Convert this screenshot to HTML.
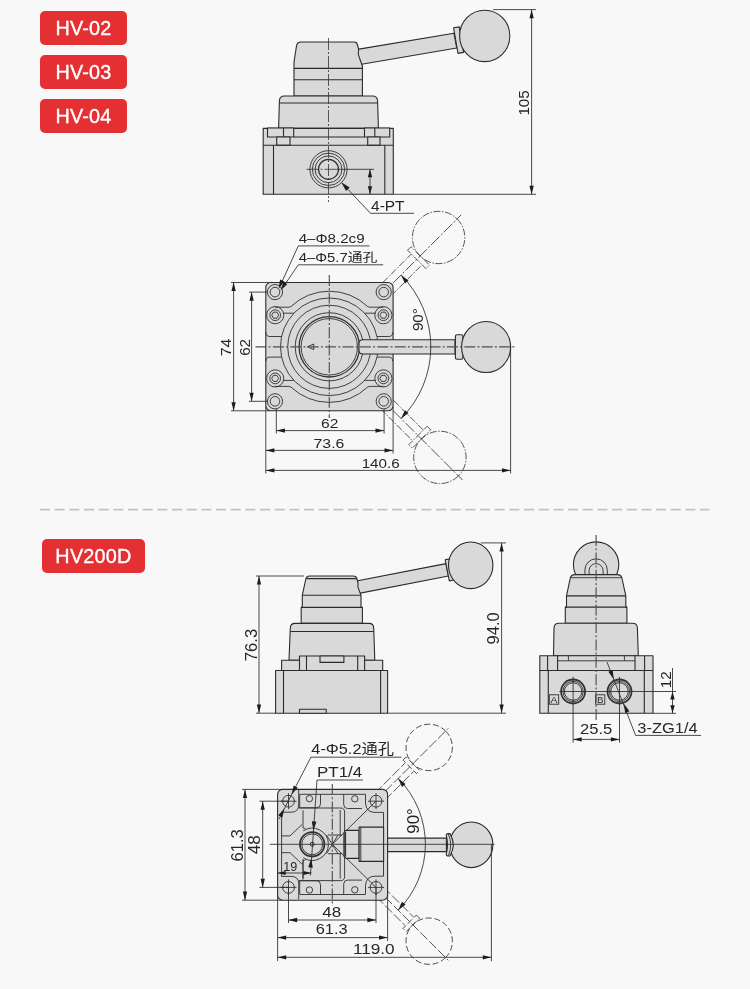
<!DOCTYPE html>
<html lang="zh"><head><meta charset="utf-8"><title>HV-02 / HV-03 / HV-04 / HV200D</title>
<style>
html,body{margin:0;padding:0;background:#f8f8f8;}
body{width:750px;height:989px;position:relative;overflow:hidden;font-family:"Liberation Sans","Noto Sans CJK SC",sans-serif;}
svg{position:absolute;left:0;top:0;display:block;filter:grayscale(1)}
.tag{position:absolute;left:40px;width:87px;height:34px;border-radius:5px;background:#e43033;color:#fff;font-size:19.8px;line-height:34px;text-align:center;-webkit-text-stroke:.35px #fff;letter-spacing:.25px;will-change:transform;font-family:"Liberation Sans","Noto Sans CJK SC",sans-serif;}
.o{fill:#d9d9d8;stroke:#2b2b2b;stroke-width:1.1;stroke-linejoin:round}
.n{fill:none;stroke:#2e2e2e;stroke-width:.9}
.n2{fill:none;stroke:#333;stroke-width:1.3}
.n3{fill:none;stroke:#333;stroke-width:1.8}
.t{fill:none;stroke:#2b2b2b;stroke-width:.85}
.c{fill:none;stroke:#505050;stroke-width:1.15;stroke-dasharray:11 2.2 2 2.2}
.g{fill:none;stroke:#3a3a3a;stroke-width:.8;stroke-dasharray:7 1.5 1.5 1.5}
.c2{fill:none;stroke:#333;stroke-width:.8;stroke-dasharray:12 2 2 2}
.g2{fill:none;stroke:#3a3a3a;stroke-width:.8;stroke-dasharray:10 2.5}
.g3{fill:none;stroke:#3a3a3a;stroke-width:.85;stroke-dasharray:6 2.7}
.a{fill:#1d1d1d;stroke:none}
text{fill:#262626;font-family:"Liberation Sans","Noto Sans CJK SC",sans-serif}
.sep{stroke:#c2c2c2;stroke-width:1.8;stroke-dasharray:10 4.67}
</style></head><body>
<svg width="750" height="989" viewBox="0 0 750 989">
<rect x="0" y="0" width="750" height="989" fill="#f8f8f8"/>
<line class="sep" x1="40" y1="509.7" x2="709.5" y2="509.7"/>
<g id="v1">
<path class="o" d="M350 50.6 L454 33.3 L456.7 48 L350 66.2 Z"/>
<path class="o" d="M453.6 27.8 L459.2 26.9 L463.6 52.4 L458 53.4 Z"/>
<ellipse class="o" cx="484.7" cy="35.9" rx="25.1" ry="25.7"/>
<path class="o" d="M294 96 L294 62 L296.5 46 Q297 42 301 42 L354 42 Q357 42 357.5 45 L358.6 49 Q357.5 54 359.5 58 L362.4 66 L362.4 96 Z"/>
<line class="o" x1="294" y1="68.4" x2="362.4" y2="68.4"/>
<line class="o" x1="294" y1="79.7" x2="362.4" y2="79.7"/>
<path class="o" d="M278.6 128.4 L279.4 101 Q279.6 96 284.4 96 L372.6 96 Q377.4 96 377.6 101 L378.4 128.4 Z"/>
<line class="o" x1="279.4" y1="103" x2="377.6" y2="103"/>
<rect class="o" x="263.2" y="128.4" width="130.1" height="65.9"/>
<rect class="o" x="267.5" y="128" width="26.2" height="9"/>
<line class="o" x1="283.5" y1="128" x2="283.5" y2="137"/>
<rect class="o" x="276.7" y="137" width="13.3" height="8.2"/>
<rect class="o" x="364.5" y="128" width="25.2" height="9"/>
<line class="o" x1="374.8" y1="128" x2="374.8" y2="137"/>
<rect class="o" x="367.7" y="137" width="12.3" height="8.2"/>
<line class="o" x1="293.7" y1="137" x2="364.5" y2="137"/>
<line class="o" x1="263.2" y1="145.2" x2="393.3" y2="145.2"/>
<line class="o" x1="273.5" y1="145.2" x2="273.5" y2="194.3"/>
<line class="o" x1="384.8" y1="145.2" x2="384.8" y2="194.3"/>
<circle class="n" cx="328.5" cy="169.3" r="18.6"/>
<circle class="n" cx="328.5" cy="169.3" r="16.2"/>
<circle class="n" cx="328.5" cy="169.3" r="13.4"/>
<circle class="n2" cx="328.5" cy="169.3" r="10"/>
<line class="c2" x1="328.5" y1="38" x2="328.5" y2="202"/>
<line class="c2" x1="306.5" y1="169.3" x2="336.5" y2="169.3"/>
<line class="t" x1="336.5" y1="169.3" x2="374" y2="169.3"/>
<line class="t" x1="370" y1="169.3" x2="370" y2="194.3"/>
<polygon class="a" points="370,169.3 372.2,177.3 367.8,177.3"/>
<polygon class="a" points="370,194.3 367.8,186.3 372.2,186.3"/>
<line class="t" x1="342" y1="183" x2="370.5" y2="213.3"/>
<line class="t" x1="370.5" y1="213.3" x2="414" y2="213.3"/>
<polygon class="a" points="341.3,182.3 349.65,187.47 346.03,190.91"/>
<text class="s" x="387.8" y="210.7" text-anchor="middle" font-size="14" textLength="33.5" lengthAdjust="spacingAndGlyphs">4-PT</text>
<line class="t" x1="493" y1="9.6" x2="536" y2="9.6"/>
<line class="t" x1="393.3" y1="194.3" x2="536" y2="194.3"/>
<line class="t" x1="531.6" y1="9.6" x2="531.6" y2="194.3"/>
<polygon class="a" points="531.6,9.6 533.75,18.2 529.45,18.2"/>
<polygon class="a" points="531.6,194.3 529.45,185.7 533.75,185.7"/>
<text class="s" x="529.3" y="102.9" text-anchor="middle" font-size="14" textLength="25.3" lengthAdjust="spacingAndGlyphs" transform="rotate(-90 529.3 102.9)">105</text>
</g>
<g id="v2">
<g transform="rotate(-45 329.3 346.8)">
<line class="g" x1="401.3" y1="339.2" x2="452.9" y2="339.2"/>
<line class="g" x1="409.3" y1="354.4" x2="452.9" y2="354.4"/>
<rect class="g" x="452.9" y="333.8" width="5" height="26"/>
<circle class="g" cx="483.9" cy="346.8" r="26.2"/>
<line class="c2" x1="419.3" y1="346.8" x2="515.9" y2="346.8"/>
</g>
<g transform="rotate(45 329.3 346.8)">
<line class="g" x1="401.3" y1="339.2" x2="454.7" y2="339.2"/>
<line class="g" x1="409.3" y1="354.4" x2="454.7" y2="354.4"/>
<rect class="g" x="454.7" y="333.8" width="5" height="26"/>
<circle class="g" cx="485.7" cy="346.8" r="26.2"/>
<line class="c2" x1="419.3" y1="346.8" x2="517.7" y2="346.8"/>
</g>
<rect class="o" x="265.8" y="282.5" width="127.3" height="128.3" rx="5"/>
<path class="n" d="M290.89 306.6 A55.6 55.6 0 0 1 367.71 306.6 M290.89 387 A55.6 55.6 0 0 0 367.71 387 M290.89 306.6 L288.89 307.2 L275.1 307.2 M293.91 313.2 L283.1 313.2 M281.6 336.5 L269.9 336.5 Q265.9 336.5 265.9 332.4 M290.89 387 L288.89 386.4 L275.1 386.4 M293.91 380.4 L283.1 380.4 M281.6 357.1 L269.9 357.1 Q265.9 357.1 265.9 361.2 M367.71 306.6 L369.71 307.2 L383.5 307.2 M364.69 313.2 L375.5 313.2 M377 336.5 L388.7 336.5 Q392.7 336.5 392.7 332.4 M367.71 387 L369.71 386.4 L383.5 386.4 M364.69 380.4 L375.5 380.4 M377 357.1 L388.7 357.1 Q392.7 357.1 392.7 361.2 "/>
<circle class="n" cx="329.3" cy="346.8" r="48.8"/>
<circle class="n" cx="275" cy="292.1" r="7.6"/>
<circle class="n" cx="275" cy="292.1" r="4.8"/>
<circle class="n" cx="275" cy="401.3" r="7.6"/>
<circle class="n" cx="275" cy="401.3" r="4.8"/>
<circle class="n" cx="383.7" cy="292.1" r="7.6"/>
<circle class="n" cx="383.7" cy="292.1" r="4.8"/>
<circle class="n" cx="383.7" cy="401.3" r="7.6"/>
<circle class="n" cx="383.7" cy="401.3" r="4.8"/>
<circle class="n" cx="275.2" cy="315.2" r="8.6"/>
<circle class="n" cx="275.2" cy="315.2" r="5.4"/>
<polygon class="n" points="278.7,315.2 276.95,318.23 273.45,318.23 271.7,315.2 273.45,312.17 276.95,312.17"/>
<circle class="n" cx="275.2" cy="378.4" r="8.6"/>
<circle class="n" cx="275.2" cy="378.4" r="5.4"/>
<polygon class="n" points="278.7,378.4 276.95,381.43 273.45,381.43 271.7,378.4 273.45,375.37 276.95,375.37"/>
<circle class="n" cx="383.4" cy="315.2" r="8.6"/>
<circle class="n" cx="383.4" cy="315.2" r="5.4"/>
<polygon class="n" points="386.9,315.2 385.15,318.23 381.65,318.23 379.9,315.2 381.65,312.17 385.15,312.17"/>
<circle class="n" cx="383.4" cy="378.4" r="8.6"/>
<circle class="n" cx="383.4" cy="378.4" r="5.4"/>
<polygon class="n" points="386.9,378.4 385.15,381.43 381.65,381.43 379.9,378.4 381.65,375.37 385.15,375.37"/>
<circle class="n" cx="329.3" cy="346.8" r="41.6"/>
<circle class="n" cx="329.3" cy="346.8" r="34.1"/>
<circle class="n2" cx="329.3" cy="346.8" r="30.2"/>
<circle class="n" cx="329.3" cy="346.8" r="28.2"/>
<path class="n" d="M307.3 346.8 L313.7 344 L313.7 349.6 Z"/>
<path class="o" d="M455 339.7 L363 339.7 Q359 339.7 359 343.5 L359 350.2 Q359 354 363 354 L455 354 Z"/>
<rect class="o" x="455.4" y="334.8" width="7.5" height="24.4" rx="1.5"/>
<ellipse class="o" cx="486.1" cy="347" rx="24.5" ry="25.5"/>
<line class="c" x1="255.5" y1="346.8" x2="515" y2="346.8"/>
<line class="c" x1="329.3" y1="275" x2="329.3" y2="418"/>
<path class="t" d="M401.07 275.03 A101.5 101.5 0 0 1 401.07 418.57"/>
<polygon class="a" points="401.07,275.03 408.52,280.58 404.95,283.47"/>
<polygon class="a" points="401.07,418.57 404.95,410.13 408.52,413.02"/>
<text class="d" x="423.5" y="319.6" text-anchor="middle" font-size="14.5" textLength="23" lengthAdjust="spacingAndGlyphs" transform="rotate(-90 423.5 319.6)">90°</text>
<line class="t" x1="231" y1="282.5" x2="269.8" y2="282.5"/>
<line class="t" x1="231" y1="410.8" x2="269.8" y2="410.8"/>
<line class="t" x1="233.6" y1="282.5" x2="233.6" y2="410.8"/>
<polygon class="a" points="233.6,282.5 235.75,291.1 231.45,291.1"/>
<polygon class="a" points="233.6,410.8 231.45,402.2 235.75,402.2"/>
<text class="d" x="231.4" y="347.4" text-anchor="middle" font-size="14.2" textLength="17.7" lengthAdjust="spacingAndGlyphs" transform="rotate(-90 231.4 347.4)">74</text>
<line class="t" x1="249" y1="292.1" x2="267.5" y2="292.1"/>
<line class="t" x1="249" y1="401.3" x2="267.5" y2="401.3"/>
<line class="t" x1="251.6" y1="292.1" x2="251.6" y2="401.3"/>
<polygon class="a" points="251.6,292.1 253.75,300.7 249.45,300.7"/>
<polygon class="a" points="251.6,401.3 249.45,392.7 253.75,392.7"/>
<text class="d" x="249.8" y="347.4" text-anchor="middle" font-size="14.2" textLength="16.9" lengthAdjust="spacingAndGlyphs" transform="rotate(-90 249.8 347.4)">62</text>
<line class="t" x1="276.3" y1="409" x2="276.3" y2="433.5"/>
<line class="t" x1="384.1" y1="409" x2="384.1" y2="433.5"/>
<line class="t" x1="276.3" y1="430.6" x2="384.1" y2="430.6"/>
<polygon class="a" points="276.3,430.6 284.9,428.45 284.9,432.75"/>
<polygon class="a" points="384.1,430.6 375.5,432.75 375.5,428.45"/>
<text class="d" x="329.75" y="428.4" text-anchor="middle" font-size="13" textLength="17.4" lengthAdjust="spacingAndGlyphs">62</text>
<line class="t" x1="265.8" y1="406.8" x2="265.8" y2="473.5"/>
<line class="t" x1="393.1" y1="406.8" x2="393.1" y2="453.5"/>
<line class="t" x1="265.8" y1="450.4" x2="393.1" y2="450.4"/>
<polygon class="a" points="265.8,450.4 274.4,448.25 274.4,452.55"/>
<polygon class="a" points="393.1,450.4 384.5,452.55 384.5,448.25"/>
<text class="d" x="328.95" y="447.6" text-anchor="middle" font-size="13" textLength="30.8" lengthAdjust="spacingAndGlyphs">73.6</text>
<line class="t" x1="510.6" y1="346.9" x2="510.6" y2="473.5"/>
<line class="t" x1="265.8" y1="470.4" x2="510.6" y2="470.4"/>
<polygon class="a" points="265.8,470.4 274.4,468.25 274.4,472.55"/>
<polygon class="a" points="510.6,470.4 502,472.55 502,468.25"/>
<text class="d" x="380.65" y="467.7" text-anchor="middle" font-size="13" textLength="38" lengthAdjust="spacingAndGlyphs">140.6</text>
<text class="d" x="331.65" y="243" text-anchor="middle" font-size="12.2" textLength="66" lengthAdjust="spacingAndGlyphs">4–Φ8.2c9</text>
<line class="t" x1="298.3" y1="245.9" x2="369.5" y2="245.9"/>
<line class="t" x1="298.3" y1="245.9" x2="280.5" y2="285"/>
<text class="d" x="338" y="262" text-anchor="middle" font-size="12.2" textLength="78.7" lengthAdjust="spacingAndGlyphs">4–Φ5.7通孔</text>
<line class="t" x1="298.3" y1="264.8" x2="383.2" y2="264.8"/>
<line class="t" x1="298.3" y1="264.8" x2="283.5" y2="286.5"/>
<polygon class="a" points="278.6,288.8 280.07,279.6 284.45,281.55"/>
<polygon class="a" points="280.4,290.4 283.61,281.71 287.26,284.17"/>
</g>
<g id="v3">
<path class="o" d="M350 582.3 L446 563.6 L448.4 576 L350 595.1 Z"/>
<path class="o" d="M445.2 559.8 L449.6 558.9 L453.7 580 L449.3 580.9 Z"/>
<ellipse class="o" cx="470.7" cy="565.3" rx="22.2" ry="23.3"/>
<path class="o" d="M301.2 623.4 L301.2 607.4 L302.3 607.4 L302.3 595.2 L305.6 580 Q306 576 310 576 L353 576 Q356.5 576 357 579 L358 583 Q357.4 587 359 590 L361 595.2 L361 607.4 L362.4 607.4 L362.4 623.4 Z"/>
<line class="o" x1="306.5" y1="578.6" x2="356.7" y2="578.6"/>
<line class="o" x1="302.3" y1="595.2" x2="361" y2="595.2"/>
<line class="o" x1="301.2" y1="607.4" x2="362.4" y2="607.4"/>
<path class="o" d="M289 660.3 L290.3 628 Q290.5 623.4 295 623.4 L369 623.4 Q373.5 623.4 373.7 628 L374.8 660.3 Z"/>
<line class="o" x1="290.3" y1="631.5" x2="373.7" y2="631.5"/>
<rect class="o" x="281.6" y="660.3" width="101.1" height="10.2"/>
<rect class="o" x="299.5" y="656" width="65.1" height="14.5"/>
<line class="o" x1="306.5" y1="656" x2="306.5" y2="670.5"/>
<line class="o" x1="357.7" y1="656" x2="357.7" y2="670.5"/>
<rect class="o" x="320" y="656" width="23.9" height="6.4"/>
<rect class="o" x="275.6" y="670.5" width="112" height="42.7"/>
<line class="o" x1="283.5" y1="670.5" x2="283.5" y2="713.2"/>
<line class="o" x1="380.6" y1="670.5" x2="380.6" y2="713.2"/>
<rect class="o" x="299.5" y="709.3" width="26.7" height="3.9"/>
<line class="t" x1="256" y1="576" x2="304" y2="576"/>
<line class="t" x1="256" y1="713.2" x2="275.6" y2="713.2"/>
<line class="t" x1="259" y1="576" x2="259" y2="713.2"/>
<polygon class="a" points="259,576 261.15,584.6 256.85,584.6"/>
<polygon class="a" points="259,713.2 256.85,704.6 261.15,704.6"/>
<text class="s" x="256.8" y="645" text-anchor="middle" font-size="16" textLength="32.3" lengthAdjust="spacingAndGlyphs" transform="rotate(-90 256.8 645)">76.3</text>
<line class="t" x1="480.8" y1="542.9" x2="506" y2="542.9"/>
<line class="t" x1="387.6" y1="713.2" x2="506" y2="713.2"/>
<line class="t" x1="501.6" y1="542.9" x2="501.6" y2="713.2"/>
<polygon class="a" points="501.6,542.9 503.75,551.5 499.45,551.5"/>
<polygon class="a" points="501.6,713.2 499.45,704.6 503.75,704.6"/>
<text class="s" x="499" y="628.3" text-anchor="middle" font-size="16" textLength="32.3" lengthAdjust="spacingAndGlyphs" transform="rotate(-90 499 628.3)">94.0</text>
</g>
<g id="v4">
<circle class="o" cx="596.1" cy="564.6" r="22.7"/>
<path class="n" d="M584.9 575 L584.9 570 A11.2 11.2 0 0 1 607.3 570 L607.3 575"/>
<path class="n" d="M589.1 575 L589.1 570.6 A7 7 0 0 1 603.1 570.6 L603.1 575"/>
<path class="o" d="M565.3 623.2 L565.3 607.1 L566.5 607.1 L566.5 595.9 L570.3 578 Q571 574.6 575 574.6 L617.2 574.6 Q621.2 574.6 621.9 578 L625.8 595.9 L625.8 607.1 L626.9 607.1 L626.9 623.2 Z"/>
<line class="n" x1="570.3" y1="577.7" x2="621.9" y2="577.7"/>
<line class="o" x1="566.5" y1="595.9" x2="625.8" y2="595.9"/>
<line class="o" x1="565.3" y1="607.1" x2="626.9" y2="607.1"/>
<path class="o" d="M553.5 655.8 L554 628 Q554.2 623.3 559 623.3 L632.5 623.3 Q637.2 623.3 637.4 628 L638.3 655.8 Z"/>
<rect class="o" x="539.8" y="655.8" width="113.2" height="57.5"/>
<line class="o" x1="539.8" y1="670.5" x2="653" y2="670.5"/>
<line class="o" x1="547.6" y1="655.8" x2="547.6" y2="670.5"/>
<line class="o" x1="557.6" y1="655.8" x2="557.6" y2="670.5"/>
<line class="o" x1="635" y1="655.8" x2="635" y2="670.5"/>
<line class="o" x1="644.6" y1="655.8" x2="644.6" y2="670.5"/>
<line class="o" x1="548.3" y1="670.5" x2="548.3" y2="713.3"/>
<line class="o" x1="644.3" y1="670.5" x2="644.3" y2="713.3"/>
<path class="n" d="M557.6 660.8 L635 660.8 M568.4 660.8 L568.4 655.8 M624.4 660.8 L624.4 655.8"/>
<circle class="n3" cx="573.1" cy="691.5" r="12"/>
<circle class="n" cx="573.1" cy="691.5" r="10.1"/>
<circle class="n" cx="573.1" cy="691.5" r="8.7"/>
<circle class="n3" cx="619.5" cy="691.5" r="12"/>
<circle class="n" cx="619.5" cy="691.5" r="10.1"/>
<circle class="n" cx="619.5" cy="691.5" r="8.7"/>
<rect class="n" x="549.3" y="694.8" width="9.4" height="9.4"/>
<text class="s" x="554" y="703.2" text-anchor="middle" font-size="9" textLength="6.9" lengthAdjust="spacingAndGlyphs">A</text>
<rect class="n" x="595.6" y="694.8" width="9.2" height="9.4"/>
<text class="s" x="600.2" y="703.2" text-anchor="middle" font-size="9" textLength="6.5" lengthAdjust="spacingAndGlyphs">B</text>
<line class="c" x1="596.1" y1="535" x2="596.1" y2="721"/>
<line class="t" x1="559.3" y1="691.5" x2="676" y2="691.5"/>
<line class="t" x1="653" y1="713.3" x2="676" y2="713.3"/>
<line class="t" x1="672.5" y1="668" x2="672.5" y2="713.3"/>
<polygon class="a" points="672.5,691.5 674.7,699.5 670.3,699.5"/>
<polygon class="a" points="672.5,713.3 670.3,705.3 674.7,705.3"/>
<text class="s" x="670.6" y="679.8" text-anchor="middle" font-size="15.5" textLength="16.9" lengthAdjust="spacingAndGlyphs" transform="rotate(-90 670.6 679.8)">12</text>
<line class="t" x1="573.1" y1="676.8" x2="573.1" y2="742.6"/>
<line class="t" x1="619.5" y1="676.8" x2="619.5" y2="742.6"/>
<line class="t" x1="573.1" y1="739.4" x2="619.5" y2="739.4"/>
<polygon class="a" points="573.1,739.4 581.7,737.25 581.7,741.55"/>
<polygon class="a" points="619.5,739.4 610.9,741.55 610.9,737.25"/>
<text class="s" x="596.1" y="734" text-anchor="middle" font-size="15.5" textLength="32.3" lengthAdjust="spacingAndGlyphs">25.5</text>
<line class="t" x1="607" y1="662" x2="635.6" y2="735.4"/>
<line class="t" x1="635.6" y1="735.4" x2="701" y2="735.4"/>
<polygon class="a" points="613.8,679.2 608.39,671.65 612.67,669.98"/>
<polygon class="a" points="624,703.8 629.41,711.35 625.13,713.02"/>
<text class="s" x="667.5" y="732.6" text-anchor="middle" font-size="15.5" textLength="60.3" lengthAdjust="spacingAndGlyphs">3-ZG1/4</text>
</g>
<g id="v5">
<g transform="rotate(-45 332.3 844.3)">
<line class="g2" x1="398.3" y1="838.3" x2="441.3" y2="838.3"/>
<line class="g2" x1="400.3" y1="850.3" x2="441.3" y2="850.3"/>
<rect class="g3" x="441.8" y="834.8" width="4.5" height="19"/>
<circle class="g3" cx="469.3" cy="844.3" r="23.2"/>
<line class="g2" x1="394.3" y1="844.3" x2="496.3" y2="844.3"/>
</g>
<g transform="rotate(45 332.3 844.3)">
<line class="g2" x1="398.3" y1="838.3" x2="441.3" y2="838.3"/>
<line class="g2" x1="400.3" y1="850.3" x2="441.3" y2="850.3"/>
<rect class="g3" x="441.8" y="834.8" width="4.5" height="19"/>
<circle class="g3" cx="469.3" cy="844.3" r="23.2"/>
<line class="g2" x1="394.3" y1="844.3" x2="496.3" y2="844.3"/>
</g>
<rect class="o" x="277.6" y="789.4" width="110" height="110.8" rx="5"/>
<line class="n" x1="281.6" y1="813" x2="281.6" y2="876.5"/>
<line class="n" x1="299.7" y1="794.3" x2="365.5" y2="794.3"/>
<line class="n" x1="299.7" y1="894.5" x2="365.5" y2="894.5"/>
<path class="n" d="M298.7 789.4 L298.7 805 Q298.7 812.2 291 812.2 L281.6 812.2"/>
<path class="n" d="M299.7 794.3 L299.7 807.8 L316.5 807.8 Q320.5 807.8 320.5 803.8 L320.5 794.3"/>
<circle class="n" cx="309.4" cy="798.6" r="3.2"/>
<path class="n" d="M343.7 794.3 L343.7 804.5 Q343.7 808.5 347.7 808.5 L362 808.5 M365.5 794.3 L365.5 803 Q366 812.4 375 812.4 L383.5 812.4 L383.5 827.5"/>
<circle class="n" cx="354.8" cy="798.8" r="3.2"/>
<path class="n" d="M303 810.3 L303 828 L304.5 828 L306 829.5 M298.7 808 L340.5 808 Q344.6 808 344.6 812 L344.6 831 M340.2 810 L340.2 836"/>
<path class="n" d="M281.6 835.9 L290 835.9 L302 824.5"/>
<circle class="n" cx="288.5" cy="801.2" r="5.9"/>
<line class="t" x1="280.5" y1="801.2" x2="296.5" y2="801.2"/>
<line class="t" x1="288.5" y1="793.2" x2="288.5" y2="809.2"/>
<circle class="n" cx="376" cy="801.2" r="5.9"/>
<line class="t" x1="368" y1="801.2" x2="384" y2="801.2"/>
<line class="t" x1="376" y1="793.2" x2="376" y2="809.2"/>
<line class="n" x1="332.3" y1="844.3" x2="376" y2="801.2"/>
<path class="n" d="M298.7 899.2 L298.7 883.6 Q298.7 876.4 291 876.4 L281.6 876.4"/>
<path class="n" d="M299.7 894.3 L299.7 880.8 L316.5 880.8 Q320.5 880.8 320.5 884.8 L320.5 894.3"/>
<circle class="n" cx="309.4" cy="890" r="3.2"/>
<path class="n" d="M343.7 894.3 L343.7 884.1 Q343.7 880.1 347.7 880.1 L362 880.1 M365.5 894.3 L365.5 885.6 Q366 876.2 375 876.2 L383.5 876.2 L383.5 861.1"/>
<circle class="n" cx="354.8" cy="889.8" r="3.2"/>
<path class="n" d="M303 878.3 L303 860.6 L304.5 860.6 L306 859.1 M298.7 880.6 L340.5 880.6 Q344.6 880.6 344.6 876.6 L344.6 857.6 M340.2 878.6 L340.2 852.6"/>
<path class="n" d="M281.6 852.7 L290 852.7 L302 864.1"/>
<circle class="n" cx="288.5" cy="887.4" r="5.9"/>
<line class="t" x1="280.5" y1="887.4" x2="296.5" y2="887.4"/>
<line class="t" x1="288.5" y1="879.4" x2="288.5" y2="895.4"/>
<circle class="n" cx="376" cy="887.4" r="5.9"/>
<line class="t" x1="368" y1="887.4" x2="384" y2="887.4"/>
<line class="t" x1="376" y1="879.4" x2="376" y2="895.4"/>
<line class="n" x1="332.3" y1="844.3" x2="376" y2="887.4"/>
<path class="n" d="M303.2 830.9 A16.2 16.2 0 0 1 328.4 844.3 A16.2 16.2 0 0 1 303.2 857.7"/>
<circle class="n3" cx="312.2" cy="844.3" r="12.2"/>
<circle class="n" cx="312.2" cy="844.3" r="10.4"/>
<circle class="n" cx="312.2" cy="844.3" r="2"/>
<path class="o" d="M359.1 830.4 L346.5 830.4 Q343.9 830.6 343.9 834 L343.9 854.8 Q343.9 858.2 346.5 858.4 L359.1 858.4 Z"/>
<line class="n3" x1="345.2" y1="832" x2="345.2" y2="856.8"/>
<rect class="o" x="359.1" y="827.1" width="24.5" height="34.3"/>
<line class="n" x1="360.8" y1="827.1" x2="360.8" y2="861.4"/>
<path class="n" d="M328 835 L342 835 M328 853.7 L342 853.7 M326.5 835 L338 853.7 M326.5 853.7 L338 835"/>
<rect class="o" x="387.6" y="838.1" width="58.8" height="13.5"/>
<ellipse class="o" cx="471.3" cy="844.8" rx="21.6" ry="22.8"/>
<path class="o" d="M446.4 836 Q445.8 834 447.8 833.6 L450 833.6 Q456.6 844.8 450 856 L447.8 856 Q445.8 855.6 446.4 853.6 Q448.6 844.8 446.4 836 Z"/>
<path class="n" d="M448.4 834 Q453 844.8 448.4 855.6"/>
<line class="t" x1="269.7" y1="844.3" x2="494.5" y2="844.3"/>
<line class="c" x1="332.3" y1="784" x2="332.3" y2="906"/>
<path class="t" d="M398.13 778.47 A93.1 93.1 0 0 1 398.13 910.13"/>
<polygon class="a" points="398.13,778.47 405.58,784.02 402.01,786.91"/>
<polygon class="a" points="398.13,910.13 402.01,901.69 405.58,904.58"/>
<text class="s" x="419.3" y="821" text-anchor="middle" font-size="16.5" textLength="25.3" lengthAdjust="spacingAndGlyphs" transform="rotate(-90 419.3 821)">90°</text>
<line class="t" x1="242" y1="789.4" x2="282.6" y2="789.4"/>
<line class="t" x1="242" y1="900.2" x2="282.6" y2="900.2"/>
<line class="t" x1="245" y1="789.4" x2="245" y2="900.2"/>
<polygon class="a" points="245,789.4 247.15,798 242.85,798"/>
<polygon class="a" points="245,900.2 242.85,891.6 247.15,891.6"/>
<text class="s" x="243.1" y="845.3" text-anchor="middle" font-size="16" textLength="32.2" lengthAdjust="spacingAndGlyphs" transform="rotate(-90 243.1 845.3)">61.3</text>
<line class="t" x1="259.4" y1="801.2" x2="289" y2="801.2"/>
<line class="t" x1="259.4" y1="887.4" x2="289" y2="887.4"/>
<line class="t" x1="262.7" y1="801.2" x2="262.7" y2="887.4"/>
<polygon class="a" points="262.7,801.2 264.85,809.8 260.55,809.8"/>
<polygon class="a" points="262.7,887.4 260.55,878.8 264.85,878.8"/>
<text class="s" x="260.5" y="844.7" text-anchor="middle" font-size="16" textLength="19.1" lengthAdjust="spacingAndGlyphs" transform="rotate(-90 260.5 844.7)">48</text>
<line class="t" x1="288.5" y1="887.4" x2="288.5" y2="923"/>
<line class="t" x1="376" y1="887.4" x2="376" y2="923"/>
<line class="t" x1="288.5" y1="920" x2="376" y2="920"/>
<polygon class="a" points="288.5,920 297.1,917.85 297.1,922.15"/>
<polygon class="a" points="376,920 367.4,922.15 367.4,917.85"/>
<text class="s" x="331.8" y="917" text-anchor="middle" font-size="15.5" textLength="18.9" lengthAdjust="spacingAndGlyphs">48</text>
<line class="t" x1="277.6" y1="895.2" x2="277.6" y2="961"/>
<line class="t" x1="387.6" y1="895.2" x2="387.6" y2="941"/>
<line class="t" x1="277.6" y1="937.6" x2="387.6" y2="937.6"/>
<polygon class="a" points="277.6,937.6 286.2,935.45 286.2,939.75"/>
<polygon class="a" points="387.6,937.6 379,939.75 379,935.45"/>
<text class="s" x="331.7" y="934" text-anchor="middle" font-size="15.5" textLength="31.9" lengthAdjust="spacingAndGlyphs">61.3</text>
<line class="t" x1="491.4" y1="844.3" x2="491.4" y2="961.2"/>
<line class="t" x1="277.6" y1="957.3" x2="491.4" y2="957.3"/>
<polygon class="a" points="277.6,957.3 286.2,955.15 286.2,959.45"/>
<polygon class="a" points="491.4,957.3 482.8,959.45 482.8,955.15"/>
<text class="s" x="373.8" y="954.4" text-anchor="middle" font-size="15.5" textLength="41.7" lengthAdjust="spacingAndGlyphs">119.0</text>
<text class="s" x="352.7" y="754" text-anchor="middle" font-size="15" textLength="82.7" lengthAdjust="spacingAndGlyphs">4-Φ5.2通孔</text>
<line class="t" x1="311" y1="757.2" x2="401.5" y2="757.2"/>
<line class="t" x1="311" y1="757" x2="279" y2="819"/>
<polygon class="a" points="291.6,794.6 293.68,785.55 297.77,787.66"/>
<polygon class="a" points="284.4,808.4 282.32,817.45 278.23,815.34"/>
<text class="s" x="339.6" y="777.4" text-anchor="middle" font-size="15" textLength="45.3" lengthAdjust="spacingAndGlyphs">PT1/4</text>
<line class="t" x1="317" y1="780" x2="363" y2="780"/>
<line class="t" x1="317" y1="780" x2="310.4" y2="875.5"/>
<polygon class="a" points="313.4,830.5 311.8,821.35 316.38,821.7"/>
<polygon class="a" points="311.2,858.5 312.8,867.65 308.22,867.3"/>
<line class="t" x1="303" y1="859" x2="303" y2="879.7"/>
<line class="t" x1="277.6" y1="873" x2="311.5" y2="873"/>
<polygon class="a" points="277.6,873 285.6,870.9 285.6,875.1"/>
<polygon class="a" points="311.4,873 303.4,875.1 303.4,870.9"/>
<text class="s" x="290.25" y="870.6" text-anchor="middle" font-size="13" textLength="14" lengthAdjust="spacingAndGlyphs">19</text>
</g>
</svg>
<div class="tag" style="top:11px">HV-02</div>
<div class="tag" style="top:55px">HV-03</div>
<div class="tag" style="top:99px">HV-04</div>
<div class="tag" style="top:538.5px;left:42px;width:103px">HV200D</div>
</body></html>
